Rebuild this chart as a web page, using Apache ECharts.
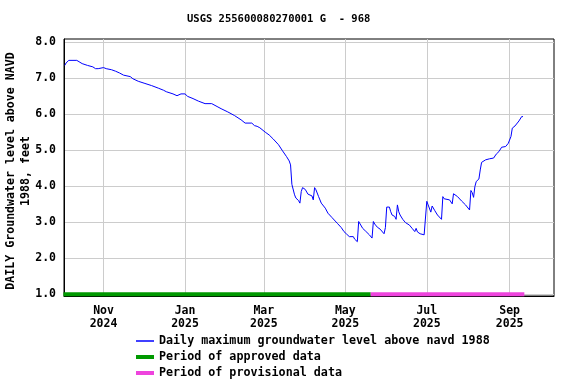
<!DOCTYPE html>
<html><head><meta charset="utf-8">
<script src="https://cdn.jsdelivr.net/npm/echarts@6/dist/echarts.min.js"></script>
<style>html,body{margin:0;padding:0;background:#fff}#c{width:576px;height:384px}</style>
</head><body><div id="c"></div>
<script>
const titleText = 'USGS 255600080270001 G  - 968';
const dates = [
'2024-10-03','2024-10-04','2024-10-06','2024-10-12','2024-10-16','2024-10-20','2024-10-24','2024-10-26','2024-10-28','2024-10-29',
'2024-11-01','2024-11-03','2024-11-07','2024-11-10','2024-11-13','2024-11-16','2024-11-21','2024-11-23','2024-11-27',
'2024-12-02','2024-12-07','2024-12-12','2024-12-16','2024-12-18','2024-12-23','2024-12-26','2024-12-29',
'2025-01-01','2025-01-03','2025-01-07','2025-01-11','2025-01-16','2025-01-21','2025-01-25','2025-01-28',
'2025-02-02','2025-02-07','2025-02-12','2025-02-15','2025-02-20','2025-02-22','2025-02-24','2025-02-26',
'2025-03-02','2025-03-05','2025-03-08','2025-03-12','2025-03-15','2025-03-18','2025-03-20','2025-03-21','2025-03-22','2025-03-24','2025-03-25','2025-03-27','2025-03-28','2025-03-29','2025-03-30',
'2025-04-01','2025-04-03','2025-04-06','2025-04-07','2025-04-08','2025-04-09','2025-04-11','2025-04-13','2025-04-16','2025-04-18','2025-04-21','2025-04-25','2025-04-28','2025-04-30',
'2025-05-02','2025-05-04','2025-05-07','2025-05-08','2025-05-10','2025-05-11','2025-05-12','2025-05-14','2025-05-16','2025-05-19','2025-05-21','2025-05-22','2025-05-23','2025-05-25','2025-05-27','2025-05-28','2025-05-30','2025-05-31',
'2025-06-01','2025-06-03','2025-06-04','2025-06-05','2025-06-07','2025-06-08','2025-06-09','2025-06-10','2025-06-11','2025-06-13','2025-06-15','2025-06-18','2025-06-20','2025-06-22','2025-06-23','2025-06-24','2025-06-26','2025-06-29','2025-06-30',
'2025-07-01','2025-07-02','2025-07-04','2025-07-05','2025-07-07','2025-07-09','2025-07-12','2025-07-13','2025-07-14','2025-07-18','2025-07-20','2025-07-21','2025-07-24','2025-07-27','2025-07-30',
'2025-08-02','2025-08-03','2025-08-04','2025-08-05','2025-08-06','2025-08-07','2025-08-09','2025-08-10','2025-08-11','2025-08-14','2025-08-17','2025-08-20','2025-08-22','2025-08-24','2025-08-26','2025-08-29','2025-08-31',
'2025-09-01','2025-09-02','2025-09-03','2025-09-05','2025-09-06','2025-09-08','2025-09-10','2025-09-11'
];
const levels = [
7.35,7.42,7.49,7.49,7.40,7.35,7.31,7.26,7.26,7.29,
7.29,7.26,7.23,7.19,7.14,7.08,7.04,6.98,6.91,
6.85,6.79,6.72,6.66,6.62,6.56,6.51,6.56,
6.56,6.49,6.43,6.36,6.29,6.29,6.21,6.15,
6.06,5.96,5.84,5.75,5.75,5.68,5.66,5.62,
5.50,5.42,5.31,5.15,4.98,4.82,4.70,4.59,4.05,3.76,3.67,3.60,3.53,3.85,3.96,
3.91,3.78,3.73,3.62,3.96,3.90,3.71,3.53,3.39,3.25,3.13,2.97,2.85,2.74,
2.67,2.60,2.60,2.53,2.46,3.02,2.97,2.83,2.76,2.65,2.56,3.02,2.95,2.86,2.81,2.77,2.68,2.85,
3.42,3.42,3.29,3.20,3.16,3.08,3.48,3.29,3.20,3.08,2.99,2.92,2.83,2.74,2.83,2.73,2.68,2.65,2.64,
3.58,3.48,3.28,3.45,3.32,3.20,3.08,3.71,3.65,3.62,3.51,3.79,3.71,3.59,3.48,
3.34,3.88,3.82,3.69,3.99,4.13,4.20,4.45,4.66,4.73,4.76,4.78,4.89,4.96,5.08,5.10,5.19,
5.24,5.38,5.61,5.67,5.69,5.81,5.93,5.93
];
const approvedPeriod = ['2024-10-02', '2025-05-20'];
const provisionalPeriod = ['2025-05-20', '2025-09-12'];
const periodLevel = 1.0;
const xTickDates = ['2024-11-01','2025-01-01','2025-03-01','2025-05-01','2025-07-01','2025-09-01'];
const yTicks = [1, 2, 3, 4, 5, 6, 7, 8];
const monthNames = ['Jan','Feb','Mar','Apr','May','Jun','Jul','Aug','Sep','Oct','Nov','Dec'];
const seriesNames = ['Daily maximum groundwater level above navd 1988', 'Period of approved data', 'Period of provisional data'];

function toTs(s) { const p = s.split('-').map(Number); return new Date(p[0], p[1]-1, p[2]).getTime(); }

const FONT = 'DejaVu Sans Mono';
const chart = echarts.init(document.getElementById('c'), null, {renderer: 'canvas'});
const lbl = {fontFamily: FONT, fontWeight: 'bold', fontSize: 11.5, color: '#000'};
function legendFor(name, top, h, color) {
  return {
    data: [name], left: 136, top: top, padding: 0, icon: 'rect', itemWidth: 18, itemHeight: h,
    itemStyle: {color: color}, selectedMode: false,
    textStyle: {fontFamily: FONT, fontWeight: 'bold', fontSize: 11.7, color: '#000'}
  };
}
chart.setOption({
  animation: false,
  backgroundColor: '#fff',
  title: {text: titleText, left: 187, top: 14, padding: 0,
    textStyle: {fontFamily: FONT, fontWeight: 'bold', fontSize: 10.5, color: '#000'}},
  legend: [
    legendFor(seriesNames[0], 335, 1.5, '#0000ff'),
    legendFor(seriesNames[1], 351, 4, '#009900'),
    legendFor(seriesNames[2], 367, 4, '#ee44dd')
  ],
  grid: {left: 64, right: 22, top: 39, bottom: 88, show: true, borderColor: '#000', borderWidth: 1,
    containLabel: false, outerBoundsMode: 'none'},
  xAxis: {
    type: 'value',
    min: new Date(2024, 9, 2, 10).getTime(),
    max: new Date(2025, 9, 4, 5).getTime(),
    axisLine: {show: true, lineStyle: {color: '#000', width: 1}},
    axisTick: {show: false, customValues: xTickDates.map(toTs)},
    splitLine: {show: true, lineStyle: {color: '#cccccc', width: 1}},
    axisLabel: Object.assign({}, lbl, {
      customValues: xTickDates.map(toTs), margin: 8.5, lineHeight: 12.7,
      formatter: function (v) { const d = new Date(v); return monthNames[d.getMonth()] + '\n' + d.getFullYear(); }
    })
  },
  yAxis: {
    type: 'value', min: 0.953, max: 8.083,
    name: 'DAILY Groundwater level above NAVD\n1988, feet',
    nameLocation: 'middle', nameRotate: 90, nameGap: 31, nameMoveOverlap: false,
    nameTextStyle: {fontFamily: FONT, fontWeight: 'bold', fontSize: 11.6, color: '#000', lineHeight: 14.5, padding: [0, 7, 0, 0]},
    axisLine: {show: true, lineStyle: {color: '#000', width: 1}},
    axisTick: {show: false, customValues: yTicks},
    splitLine: {show: true, lineStyle: {color: '#cccccc', width: 1}},
    axisLabel: Object.assign({}, lbl, {customValues: yTicks, margin: 8, formatter: function (v) { return Number(v).toFixed(1); }})
  },
  series: [
    {name: seriesNames[0], type: 'line', symbol: 'none', z: 3,
      lineStyle: {color: '#0000ff', width: 1}, itemStyle: {color: '#0000ff'},
      data: dates.map(function (d, i) { return [toTs(d), levels[i]]; })},
    {name: seriesNames[1], type: 'line', symbol: 'none', z: 4,
      lineStyle: {color: '#009900', width: 4}, itemStyle: {color: '#009900'},
      data: approvedPeriod.map(function (d) { return [toTs(d), periodLevel]; })},
    {name: seriesNames[2], type: 'line', symbol: 'none', z: 4,
      lineStyle: {color: '#ee44dd', width: 4}, itemStyle: {color: '#ee44dd'},
      data: provisionalPeriod.map(function (d) { return [toTs(d), periodLevel]; })}
  ]
});
</script></body></html>
